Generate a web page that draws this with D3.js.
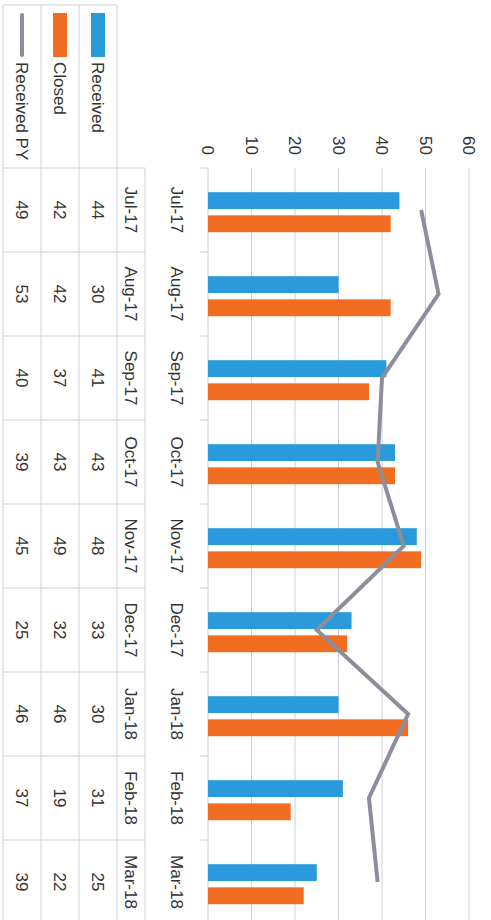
<!DOCTYPE html>
<html>
<head>
<meta charset="utf-8">
<script src="https://cdn.jsdelivr.net/npm/d3@7"></script>
<style>
  body { margin: 0; background: #fff; }
  text { font-family: "Liberation Sans", Arial, sans-serif; fill: #333; }
</style>
</head>
<body>
<div id="chart"></div>
<script>
// chart data
const months = ["Jul-17", "Aug-17", "Sep-17", "Oct-17", "Nov-17", "Dec-17", "Jan-18", "Feb-18", "Mar-18"];
const received = [44, 30, 41, 43, 48, 33, 30, 31, 25];
const closed = [42, 42, 37, 43, 49, 32, 46, 19, 22];
const receivedPY = [49, 53, 40, 39, 45, 25, 46, 37, 39];
const yTicks = [0, 10, 20, 30, 40, 50, 60];

const W = 491, H = 920;
const gridColor = "#cdd0dc";
const colors = { Received: "#2b9adb", Closed: "#f06d22", PY: "#8d8e9b" };

// the page shows the chart turned a quarter clockwise, so draw it flat and rotate
const svg = d3.select("#chart")
    .append("svg")
    .attr("width", W)
    .attr("height", H)
    .append("g")
    .attr("transform", "translate(" + W + ",0) rotate(90)");

const plotLeft = 168, plotRight = 924, plotTop = 22, plotBottom = 283;

const x = d3.scaleBand()
    .domain(months)
    .range([plotLeft, plotRight]);

const x1 = d3.scaleBand()
    .domain(["Received", "Closed"])
    .range([0, x.bandwidth()])
    .paddingInner(0.27)
    .paddingOuter(0.95)
    .align(0.55);

const y = d3.scaleLinear()
    .domain([0, 60])
    .range([plotBottom, plotTop]);

// gridlines
svg.append("g")
    .selectAll("line")
    .data(yTicks)
    .join("line")
    .attr("x1", plotLeft)
    .attr("x2", plotRight)
    .attr("y1", d => y(d))
    .attr("y2", d => y(d))
    .attr("stroke", gridColor)
    .attr("stroke-width", 1);

// value axis labels
const yAxis = svg.append("g")
    .attr("transform", "translate(155,0)")
    .call(d3.axisLeft(y).tickValues(yTicks).tickSize(0).tickPadding(0));
yAxis.select(".domain").remove();
yAxis.selectAll("text")
    .style("font-size", "17px")
    .attr("fill", "#333")
    .attr("font-family", "Liberation Sans, Arial, sans-serif");

// category axis
const xAxis = svg.append("g")
    .attr("transform", "translate(0," + plotBottom + ")")
    .call(d3.axisBottom(x).tickSize(0).tickPadding(0));
xAxis.select(".domain").remove();
xAxis.selectAll("text")
    .attr("y", 31)
    .attr("dy", "0.35em")
    .style("font-size", "17px")
    .attr("fill", "#333")
    .attr("font-family", "Liberation Sans, Arial, sans-serif");

// small ticks between categories
const bounds = months.map(m => x(m)).concat([plotRight]);
svg.append("g")
    .selectAll("line")
    .data(bounds)
    .join("line")
    .attr("x1", d => d)
    .attr("x2", d => d)
    .attr("y1", plotBottom)
    .attr("y2", plotBottom + 8)
    .attr("stroke", gridColor);

// bars
const groups = svg.append("g")
    .selectAll("g")
    .data(months)
    .join("g")
    .attr("transform", d => "translate(" + x(d) + ",0)");

groups.append("rect")
    .attr("x", x1("Received"))
    .attr("width", x1.bandwidth())
    .attr("y", (d, i) => y(received[i]))
    .attr("height", (d, i) => y(0) - y(received[i]))
    .attr("fill", colors.Received);

groups.append("rect")
    .attr("x", x1("Closed"))
    .attr("width", x1.bandwidth())
    .attr("y", (d, i) => y(closed[i]))
    .attr("height", (d, i) => y(0) - y(closed[i]))
    .attr("fill", colors.Closed);

// prior year line
svg.append("path")
    .datum(receivedPY)
    .attr("fill", "none")
    .attr("stroke", colors.PY)
    .attr("stroke-width", 4)
    .attr("stroke-linejoin", "miter")
    .attr("d", d3.line()
        .x((d, i) => x(months[i]) + x.bandwidth() / 2)
        .y(d => y(d)));

// data table under the plot
const rowLines = [346, 374, 412, 450, 488];
const legendLeft = 5;
const table = svg.append("g");

table.selectAll("line.h")
    .data(rowLines)
    .join("line")
    .attr("class", "h")
    .attr("x1", (d, i) => i === 0 ? plotLeft : legendLeft)
    .attr("x2", plotRight)
    .attr("y1", d => d)
    .attr("y2", d => d)
    .attr("stroke", gridColor);

table.selectAll("line.v")
    .data(bounds)
    .join("line")
    .attr("class", "v")
    .attr("x1", d => d)
    .attr("x2", d => d)
    .attr("y1", rowLines[0])
    .attr("y2", rowLines[4])
    .attr("stroke", gridColor);

table.append("line")
    .attr("x1", legendLeft)
    .attr("x2", legendLeft)
    .attr("y1", rowLines[1])
    .attr("y2", rowLines[4])
    .attr("stroke", gridColor);

// header row with months
table.selectAll("text.hd")
    .data(months)
    .join("text")
    .attr("class", "hd")
    .attr("x", d => x(d) + x.bandwidth() / 2)
    .attr("y", (rowLines[0] + rowLines[1]) / 2)
    .attr("dy", "0.35em")
    .attr("text-anchor", "middle")
    .style("font-size", "17px")
    .text(d => d);

const rows = [
    { name: "Received", values: received, key: "rect", color: colors.Received },
    { name: "Closed", values: closed, key: "rect", color: colors.Closed },
    { name: "Received PY", values: receivedPY, key: "line", color: colors.PY }
];

rows.forEach((row, r) => {
    const cy = (rowLines[r + 1] + rowLines[r + 2]) / 2;
    if (row.key === "rect") {
        table.append("rect")
            .attr("x", 13)
            .attr("y", cy - 7)
            .attr("width", 44)
            .attr("height", 14)
            .attr("fill", row.color);
    } else {
        table.append("line")
            .attr("x1", 15)
            .attr("x2", 55)
            .attr("y1", cy)
            .attr("y2", cy)
            .attr("stroke", row.color)
            .attr("stroke-width", 4)
            .attr("stroke-linecap", "round");
    }
    table.append("text")
        .attr("x", 62)
        .attr("y", cy)
        .attr("dy", "0.35em")
        .style("font-size", "17px")
        .text(row.name);
    table.selectAll(null)
        .data(row.values)
        .join("text")
        .attr("x", (d, i) => x(months[i]) + x.bandwidth() / 2)
        .attr("y", cy)
        .attr("dy", "0.35em")
        .attr("text-anchor", "middle")
        .style("font-size", "17px")
        .text(d => d);
});
</script>
</body>
</html>
